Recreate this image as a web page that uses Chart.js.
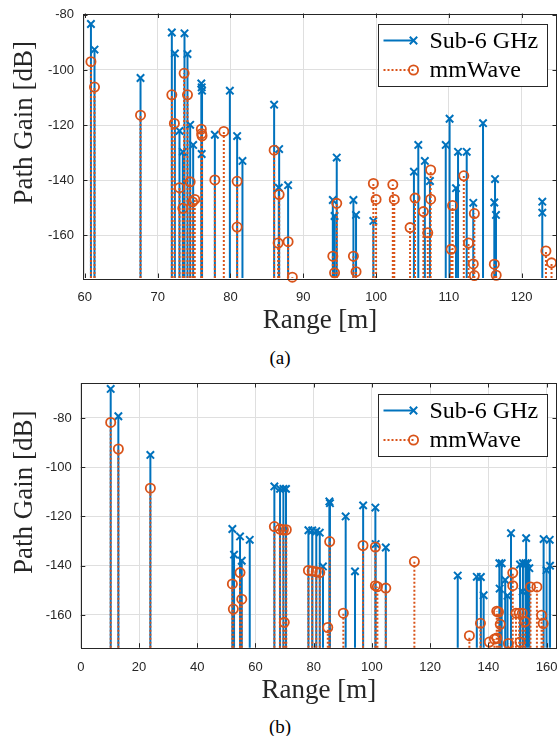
<!DOCTYPE html>
<html>
<head>
<meta charset="utf-8">
<script src="https://cdn.jsdelivr.net/npm/chart.js@4.4.1/dist/chart.umd.min.js"></script>
<style>
  html, body { margin: 0; padding: 0; background: #fff; }
  body { width: 558px; height: 736px; position: relative; overflow: hidden; }
  .panel { position: absolute; left: 0; width: 558px; height: 345px; }
  .caption { position: absolute; left: 0; width: 560px; text-align: center;
             font-family: "Liberation Serif", serif; font-size: 19px; line-height: 22px; color: #000; }
</style>
</head>
<body>
<div class="panel" style="top:0"><canvas id="chartA"></canvas></div>
<div class="caption" style="top:347px">(a)</div>
<div class="panel" style="top:370px"><canvas id="chartB"></canvas></div>
<div class="caption" style="top:716px">(b)</div>
<script>
// ---- (a) ----
const rangeA_sub6 = [60.84, 61.33, 67.65, 71.95, 72.37, 73.0, 73.46, 73.69, 74.1, 74.47, 74.88,
  76.0, 76.05, 76.1, 76.05, 77.86, 79.92, 80.92, 81.65, 86.0, 86.69, 86.64, 87.92,
  94.06, 94.3, 94.6, 96.89, 97.25, 99.63, 105.2, 105.8, 106.7, 107.4, 109.57, 110.1,
  110.98, 111.26, 112.45, 113.35, 114.69, 116.34, 116.24, 116.47, 122.83, 122.83];
const gainA_sub6 = [-83.3, -92.6, -102.9, -86.4, -94.0, -122.1, -129.7, -86.7, -94.2, -119.9, -127.2,
  -104.9, -106.3, -107.5, -130.5, -123.5, -107.5, -124.0, -133.0, -112.6, -128.7, -142.7, -141.8,
  -147.2, -153.0, -131.8, -147.2, -152.6, -154.8, -136.9, -127.2, -133.0, -140.3, -127.2, -117.7,
  -142.9, -129.7, -129.7, -148.2, -119.3, -139.6, -148.1, -152.6, -147.8, -151.8];
const rangeA_mm = [60.84, 61.33, 67.65, 71.95, 72.3, 73.0, 73.46, 73.64, 74.1, 74.47, 74.8, 75.1,
  76.0, 76.05, 76.1, 77.86, 79.09, 80.92, 80.92, 86.0, 86.69, 86.55, 87.92, 88.5,
  94.06, 94.3, 94.6, 96.89, 97.25, 99.63, 100.0, 102.3, 102.5, 104.67, 105.35, 106.5, 107.1,
  107.5, 107.5, 110.3, 110.5, 112.05, 112.7, 113.5, 113.35, 113.5, 116.24, 116.5, 123.33, 124.1];
const gainA_mm = [-97.0, -106.2, -116.4, -109.0, -119.4, -142.7, -150.2, -101.2, -109.0, -140.6, -147.9, -147.0,
  -121.5, -123.1, -123.9, -139.9, -122.3, -140.4, -157.0, -129.1, -145.2, -162.8, -162.3, -175.2,
  -167.6, -173.6, -148.4, -167.6, -173.2, -141.2, -147.0, -141.6, -147.0, -157.2, -146.5, -151.4, -159.1,
  -136.3, -146.9, -165.1, -149.2, -138.4, -162.8, -152.1, -170.4, -174.6, -170.5, -174.5, -165.7, -170.0];
const xTicksA = [60, 70, 80, 90, 100, 110, 120];
const yTicksA = [-160, -140, -120, -100, -80];
const xRangeA = [59.75, 124.85];
const yRangeA = [-175.5, -79.5];

// ---- (b) ----
const rangeB_sub6 = [10.27, 12.9, 23.9, 52.07, 52.65, 54.7, 55.3, 58.04, 66.5, 68.45, 69.6, 70.5,
  78.2, 79.5, 80.9, 82.1, 83.2, 85.4, 85.6, 91.0, 94.2, 97.0, 101.2, 101.3, 104.78,
  129.5, 136.05, 137.45, 138.4, 143.8, 144.6, 143.9, 145.8, 146.6, 147.8, 150.9, 151.9, 152.8,
  153.0, 153.5, 151.8, 154.1, 159.0, 160.0, 161.1, 161.2];
const gainB_sub6 = [-68.2, -79.3, -95.0, -125.1, -135.5, -128.1, -138.0, -129.5, -107.8, -108.8, -108.8, -108.8,
  -125.6, -125.7, -126.0, -126.6, -140.3, -113.9, -114.6, -120.0, -142.3, -115.5, -116.4, -131.2, -132.6,
  -144.0, -144.5, -144.6, -152.0, -139.0, -139.0, -149.3, -145.8, -152.2, -126.8, -139.5, -139.0, -139.0,
  -128.8, -139.0, -150.5, -141.0, -129.2, -141.8, -129.5, -140.0];
const rangeB_mm = [10.27, 12.9, 23.9, 52.07, 52.4, 54.7, 55.3, 66.5, 68.4, 69.6, 70.6, 69.9,
  78.2, 79.5, 80.9, 82.1, 84.85, 85.5, 90.2, 96.95, 101.2, 101.2, 101.9, 104.78, 114.6,
  133.5, 137.3, 140.35, 142.1, 142.9, 142.9, 143.5, 144.1, 146.9, 148.4, 148.4, 149.5, 150.6, 151.7,
  150.9, 152.6, 154.5, 156.7, 158.3, 158.85];
const gainB_mm = [-81.8, -92.6, -108.5, -147.4, -157.6, -142.8, -153.6, -124.1, -125.1, -125.4, -125.4, -163.0,
  -141.9, -142.2, -142.5, -142.8, -165.1, -130.2, -159.3, -131.8, -132.4, -148.1, -148.5, -149.1, -138.3,
  -168.4, -163.4, -171.0, -169.8, -169.4, -158.5, -158.8, -163.8, -171.6, -142.9, -148.1, -159.3, -159.3, -159.3,
  -171.0, -162.7, -148.6, -148.6, -160.1, -163.5];
const xTicksB = [0, 20, 40, 60, 80, 100, 120, 140, 160];
const yTicksB = [-160, -140, -120, -100, -80];
const xRangeB = [0, 163.6];
const yRangeB = [-173.3, -65.8];

const seriesNames = ['Sub-6 GHz', 'mmWave'];
const xTitle = 'Range [m]', yTitle = 'Path Gain [dB]';
const BLUE = '#0072BD', ORANGE = '#D95319', AXIS = '#262626';

// every stem: baseline point, top point, gap
function stems(ranges, gains, base) {
  const pts = [];
  ranges.forEach((r, i) => {
    pts.push({x: r, y: base}, {x: r, y: gains[i]}, {x: r, y: null});
  });
  return pts;
}

const framePlugin = {
  id: 'frame',
  afterDatasetsDraw(chart) {
    const {ctx, chartArea: a, scales: {x, y}} = chart;
    const tl = 4.5;
    ctx.save();
    ctx.strokeStyle = AXIS;
    ctx.lineWidth = 1;
    ctx.beginPath();
    x.ticks.forEach(t => {
      const px = Math.round(x.getPixelForValue(t.value)) + 0.5;
      ctx.moveTo(px, a.bottom); ctx.lineTo(px, a.bottom - tl);
      ctx.moveTo(px, a.top); ctx.lineTo(px, a.top + tl);
    });
    y.ticks.forEach(t => {
      const py = Math.round(y.getPixelForValue(t.value)) + 0.5;
      ctx.moveTo(a.left, py); ctx.lineTo(a.left + tl, py);
      ctx.moveTo(a.right, py); ctx.lineTo(a.right - tl, py);
    });
    ctx.stroke();
    ctx.strokeRect(Math.round(a.left) + 0.5, Math.round(a.top) + 0.5,
      Math.round(a.right - a.left) - 1, Math.round(a.bottom - a.top));
    ctx.restore();
  },
  afterDraw(chart) {
    const {ctx, chartArea: a} = chart;
    // y axis title, sits a little above the axis centre as in the figure
    ctx.save();
    ctx.translate(25, (a.top + a.bottom) / 2 - 23);
    ctx.rotate(-Math.PI / 2);
    ctx.fillStyle = AXIS;
    ctx.font = '27px "Liberation Serif"';
    ctx.textAlign = 'center';
    ctx.textBaseline = 'middle';
    ctx.fillText(yTitle, 0, 0);
    ctx.restore();

    const w = 169, h = 62;
    const bx = Math.round(a.right - 10 - w) + 0.5, by = Math.round(a.top + 10.5) + 0.5;
    ctx.save();
    ctx.fillStyle = '#fff';
    ctx.fillRect(bx, by, w, h);
    ctx.strokeStyle = AXIS;
    ctx.lineWidth = 1;
    ctx.strokeRect(bx, by, w, h);
    chart.data.datasets.forEach(ds => {
      const cy = by + 16 + ds.legendRow * 29.5;
      ctx.strokeStyle = ds.borderColor;
      ctx.lineWidth = ds.borderWidth;
      ctx.setLineDash(ds.borderDash || []);
      ctx.beginPath();
      ctx.moveTo(bx + 5, cy); ctx.lineTo(bx + 35, cy);
      ctx.stroke();
      ctx.setLineDash([]);
      ctx.lineWidth = ds.pointBorderWidth;
      ctx.beginPath();
      if (ds.pointStyle === 'crossRot') {
        const r = ds.markerSize;
        ctx.moveTo(bx + 35 - r, cy - r); ctx.lineTo(bx + 35 + r, cy + r);
        ctx.moveTo(bx + 35 - r, cy + r); ctx.lineTo(bx + 35 + r, cy - r);
      } else {
        ctx.arc(bx + 35, cy, ds.markerSize, 0, Math.PI * 2);
      }
      ctx.stroke();
      ctx.fillStyle = '#000';
      ctx.font = '24px "Liberation Serif"';
      ctx.textBaseline = 'middle';
      ctx.fillText(ds.label, bx + 51, cy + 1);
    });
    ctx.restore();
  }
};

function makeChart(id, d) {
  const base = d.yRange[0];
  const cross = 3.7, circ = 4.6;
  new Chart(document.getElementById(id), {
    type: 'line',
    data: {
      datasets: [{
        label: seriesNames[0],
        legendRow: 0,
        data: stems(d.r1, d.g1, base),
        borderColor: BLUE,
        borderWidth: 2,
        pointStyle: 'crossRot',
        markerSize: cross,
        pointRadius: c => c.dataIndex % 3 === 1 ? cross * 1.414 : 0,
        pointBorderColor: BLUE,
        pointBorderWidth: 2,
        pointBackgroundColor: BLUE,
        order: 2
      }, {
        label: seriesNames[1],
        legendRow: 1,
        data: stems(d.r2, d.g2, base),
        borderColor: ORANGE,
        borderWidth: 2,
        borderDash: [2, 2],
        pointStyle: 'circle',
        markerSize: circ,
        pointRadius: c => c.dataIndex % 3 === 1 ? circ : 0,
        pointBorderColor: ORANGE,
        pointBorderWidth: 1.8,
        pointBackgroundColor: 'rgba(0,0,0,0)',
        order: 1
      }]
    },
    options: {
      responsive: true,
      maintainAspectRatio: false,
      animation: false,
      events: [],
      spanGaps: false,
      datasets: { line: { tension: 0, clip: false, pointHoverRadius: 0, borderCapStyle: 'butt' } },
      layout: { padding: { top: d.padTop, right: 1, left: 0, bottom: 0 } },
      plugins: { legend: { display: false }, tooltip: { enabled: false } },
      scales: {
        x: {
          type: 'linear',
          min: d.xRange[0], max: d.xRange[1],
          afterBuildTicks: s => { s.ticks = d.xTicks.map(v => ({value: v})); },
          afterFit: s => { s.height = d.xHeight; s.paddingLeft = 0; s.paddingRight = 0; },
          grid: { color: '#dfdfdf', drawTicks: false },
          border: { display: false },
          ticks: { padding: 11.5, color: AXIS, maxRotation: 0, autoSkip: false,
                   font: { family: 'Liberation Sans', size: 13 } },
          title: { display: true, text: xTitle, color: AXIS,
                   font: { family: 'Liberation Serif', size: 27 }, padding: { top: 0, bottom: 8 } }
        },
        y: {
          type: 'linear',
          min: d.yRange[0], max: d.yRange[1],
          afterBuildTicks: s => { s.ticks = d.yTicks.map(v => ({value: v})); },
          afterFit: s => { s.width = d.yWidth; s.paddingTop = 0; s.paddingBottom = 0; },
          grid: { color: '#dfdfdf', drawTicks: false },
          border: { display: false },
          ticks: { padding: 9, color: AXIS, autoSkip: false,
                   font: { family: 'Liberation Sans', size: 13 } },
          title: { display: false }
        }
      }
    },
    plugins: [framePlugin]
  });
}

makeChart('chartA', {
  r1: rangeA_sub6, g1: gainA_sub6, r2: rangeA_mm, g2: gainA_mm,
  xTicks: xTicksA, yTicks: yTicksA, xRange: xRangeA, yRange: yRangeA,
  padTop: 13.5, xHeight: 67, yWidth: 83
});
makeChart('chartB', {
  r1: rangeB_sub6, g1: gainB_sub6, r2: rangeB_mm, g2: gainB_mm,
  xTicks: xTicksB, yTicks: yTicksB, xRange: xRangeB, yRange: yRangeB,
  padTop: 13, xHeight: 67.3, yWidth: 80.8
});
</script>
</body>
</html>
